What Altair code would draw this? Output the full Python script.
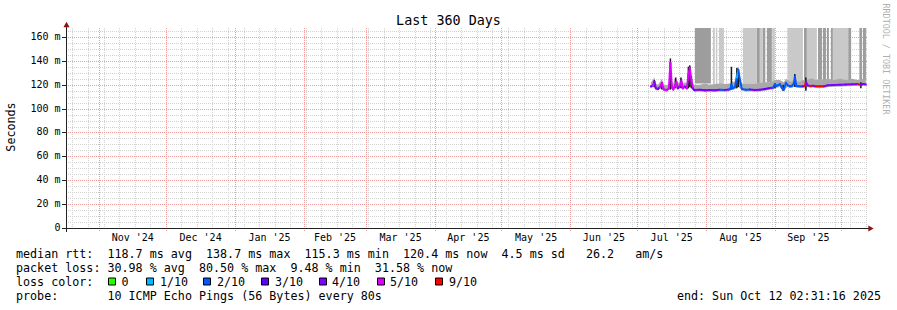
import altair as alt
import pandas as pd

FONT = "DejaVu Sans Mono"

# ---------------- time axis ----------------
T_START_STR = "2024-10-17T02:31:16Z"
T_END_STR = "2025-10-12T02:31:16Z"
T_START = alt.DateTime(year=2024, month=10, date=17, hours=2, minutes=31, seconds=16, utc=True)
T_END = alt.DateTime(year=2025, month=10, date=12, hours=2, minutes=31, seconds=16, utc=True)
Y_MAX = 167.5

# ---------------- median rtt (ms) with loss class ----------------
med_time = [
    "2025-07-07T07:00:00Z", "2025-07-08T05:00:00Z", "2025-07-08T21:00:00Z", "2025-07-09T13:00:00Z",
    "2025-07-10T11:00:00Z", "2025-07-11T08:00:00Z", "2025-07-12T06:00:00Z", "2025-07-13T04:00:00Z",
    "2025-07-14T12:00:00Z", "2025-07-15T10:00:00Z", "2025-07-16T02:00:00Z", "2025-07-16T18:00:00Z",
    "2025-07-17T10:00:00Z", "2025-07-18T02:00:00Z", "2025-07-18T19:00:00Z", "2025-07-19T11:00:00Z",
    "2025-07-20T08:00:00Z", "2025-07-21T01:00:00Z", "2025-07-21T17:00:00Z", "2025-07-22T14:00:00Z",
    "2025-07-23T12:00:00Z", "2025-07-24T04:00:00Z", "2025-07-24T20:00:00Z", "2025-07-25T13:00:00Z",
    "2025-07-26T05:00:00Z", "2025-07-26T21:00:00Z", "2025-07-29T08:00:00Z", "2025-07-31T14:00:00Z",
    "2025-08-02T20:00:00Z", "2025-08-05T02:00:00Z", "2025-08-07T08:00:00Z", "2025-08-09T14:00:00Z",
    "2025-08-11T10:00:00Z", "2025-08-12T02:00:00Z", "2025-08-12T13:00:00Z", "2025-08-13T05:00:00Z",
    "2025-08-14T02:00:00Z", "2025-08-15T00:00:00Z", "2025-08-15T16:00:00Z", "2025-08-16T08:00:00Z",
    "2025-08-17T06:00:00Z", "2025-08-19T01:00:00Z", "2025-08-20T20:00:00Z", "2025-08-23T02:00:00Z",
    "2025-08-25T08:00:00Z", "2025-08-27T14:00:00Z", "2025-08-29T21:00:00Z", "2025-08-31T05:00:00Z",
    "2025-09-01T03:00:00Z", "2025-09-02T00:00:00Z", "2025-09-03T09:00:00Z", "2025-09-04T06:00:00Z",
    "2025-09-05T04:00:00Z", "2025-09-06T01:00:00Z", "2025-09-06T23:00:00Z", "2025-09-07T21:00:00Z",
    "2025-09-08T18:00:00Z", "2025-09-09T16:00:00Z", "2025-09-10T02:00:00Z", "2025-09-10T19:00:00Z",
    "2025-09-12T09:00:00Z", "2025-09-13T17:00:00Z", "2025-09-14T15:00:00Z", "2025-09-15T01:00:00Z",
    "2025-09-15T18:00:00Z", "2025-09-16T21:00:00Z", "2025-09-18T05:00:00Z", "2025-09-19T13:00:00Z",
    "2025-09-21T09:00:00Z", "2025-09-23T04:00:00Z", "2025-09-24T23:00:00Z", "2025-09-27T16:00:00Z",
    "2025-09-30T09:00:00Z", "2025-10-03T01:00:00Z", "2025-10-05T18:00:00Z", "2025-10-08T11:00:00Z",
    "2025-10-09T19:00:00Z", "2025-10-10T17:00:00Z", "2025-10-12T01:00:00Z",
]
med_ms = [
    118.5, 119.5, 122.5, 117.0, 116.5, 118.0, 121.5, 116.0, 115.5, 117.0, 138.5, 118.0,
    116.0, 119.0, 122.5, 117.0, 119.0, 123.0, 117.0, 118.5, 117.0, 128.0, 134.0, 124.0,
    117.0, 115.5, 115.8, 115.3, 115.6, 115.4, 115.8, 115.6, 116.0, 116.5, 120.0, 117.0,
    118.0, 126.0, 132.5, 124.0, 116.5, 115.8, 116.0, 115.6, 115.8, 116.5, 117.2, 117.5,
    120.5, 119.0, 120.5, 117.5, 116.0, 121.5, 119.5, 118.7, 119.0, 121.0, 126.5, 119.0,
    118.7, 118.8, 119.0, 122.5, 119.5, 119.0, 119.2, 118.8, 118.7, 118.8, 119.5, 119.8,
    120.0, 120.2, 120.4, 120.5, 120.0, 120.6, 120.4,
]
med_loss = [
    "4/10", "4/10", "5/10", "4/10", "4/10", "4/10", "5/10", "5/10", "5/10", "5/10", "5/10", "5/10",
    "5/10", "5/10", "5/10", "5/10", "4/10", "5/10", "5/10", "5/10", "4/10", "5/10", "5/10", "5/10",
    "5/10", "4/10", "4/10", "4/10", "4/10", "4/10", "4/10", "2/10", "4/10", "2/10", "2/10", "2/10",
    "2/10", "2/10", "1/10", "2/10", "2/10", "2/10", "2/10", "4/10", "4/10", "4/10", "3/10", "4/10",
    "2/10", "2/10", "2/10", "2/10", "2/10", "2/10", "2/10", "2/10", "2/10", "2/10", "2/10", "2/10",
    "2/10", "2/10", "4/10", "9/10", "4/10", "4/10", "9/10", "4/10", "9/10", "9/10", "4/10", "4/10",
    "4/10", "4/10", "4/10", "4/10", "9/10", "4/10", "4/10",
]
smoke_lo = [
    117.0, 118.0, 117.5, 115.5, 115.0, 116.5, 116.5, 114.5, 114.0, 115.5, 116.0, 116.5,
    114.5, 117.5, 117.0, 115.5, 117.5, 117.0, 115.5, 117.0, 115.5, 117.0, 118.0, 117.0,
    115.5, 114.0, 114.3, 113.8, 114.1, 113.9, 114.3, 114.1, 114.5, 115.0, 116.0, 115.5,
    116.5, 117.0, 118.0, 117.0, 115.0, 114.3, 114.5, 114.1, 114.3, 115.0, 115.7, 116.0,
    117.0, 117.5, 118.0, 115.0, 114.5, 117.0, 118.0, 117.2, 117.5, 118.0, 118.0, 117.5,
    117.2, 117.3, 117.5, 115.0, 118.0, 117.5, 117.7, 117.3, 117.2, 117.3, 118.0, 118.3,
    118.5, 118.7, 118.9, 119.0, 118.5, 119.1, 118.9,
]
smoke_hi = [
    122.0, 124.0, 126.0, 121.0, 120.0, 122.0, 125.0, 120.0, 119.5, 121.0, 142.0, 122.0,
    121.0, 125.0, 126.0, 121.0, 123.0, 126.0, 121.0, 122.0, 121.0, 135.0, 137.0, 127.0,
    121.0, 120.0, 120.0, 121.0, 120.0, 120.5, 121.0, 120.5, 121.0, 121.0, 124.0, 122.0,
    123.0, 134.0, 135.0, 128.0, 121.0, 121.0, 121.0, 121.0, 121.5, 122.0, 122.0, 123.0,
    124.0, 124.0, 124.0, 123.0, 122.0, 125.0, 124.0, 123.0, 123.0, 124.0, 129.0, 123.0,
    123.0, 124.0, 124.0, 126.0, 124.0, 125.0, 125.0, 124.0, 125.0, 124.0, 125.0, 124.0,
    125.0, 124.0, 125.0, 124.0, 124.0, 125.0, 124.0,
]

# ---------------- tall smoke columns (pings beyond the graph top) ----------------
band_start = [
    "2025-07-27T02:00:00Z", "2025-08-04T05:00:00Z", "2025-08-05T13:00:00Z", "2025-08-06T22:00:00Z",
    "2025-08-17T17:00:00Z", "2025-08-24T00:00:00Z", "2025-08-25T08:00:00Z", "2025-08-26T17:00:00Z",
    "2025-08-28T12:00:00Z", "2025-08-31T00:00:00Z", "2025-09-06T17:00:00Z", "2025-09-14T05:00:00Z",
    "2025-09-15T12:00:00Z", "2025-09-20T12:00:00Z", "2025-09-22T17:00:00Z", "2025-09-24T12:00:00Z",
    "2025-09-26T07:00:00Z", "2025-09-27T05:00:00Z", "2025-10-04T02:00:00Z", "2025-10-09T03:00:00Z",
    "2025-10-10T17:00:00Z",
]
band_end = [
    "2025-08-03T07:00:00Z", "2025-08-05T02:00:00Z", "2025-08-06T05:00:00Z", "2025-08-09T04:00:00Z",
    "2025-08-24T00:00:00Z", "2025-08-25T08:00:00Z", "2025-08-26T17:00:00Z", "2025-08-27T19:00:00Z",
    "2025-08-30T18:00:00Z", "2025-09-01T02:00:00Z", "2025-09-13T17:00:00Z", "2025-09-15T12:00:00Z",
    "2025-09-20T00:00:00Z", "2025-09-22T07:00:00Z", "2025-09-24T02:00:00Z", "2025-09-25T10:00:00Z",
    "2025-09-27T05:00:00Z", "2025-10-04T02:00:00Z", "2025-10-05T10:00:00Z", "2025-10-10T07:00:00Z",
    "2025-10-12T02:00:00Z",
]
band_shade = [
    "dark", "light", "light", "light", "light", "dark", "light", "dark", "dark", "light", "light",
    "dark", "light", "dark", "dark", "dark", "dark", "light", "dark", "dark", "dark",
]
band_lo = [
    121.0, 120.5, 120.5, 120.5, 121.0, 121.0, 121.0, 121.5, 122.0, 123.0, 123.0,
    124.0, 124.0, 124.0, 124.0, 124.0, 124.0, 124.0, 124.0, 124.0, 124.0,
]

# ---------------- dark spikes (dense smoke) ----------------
spike_time = [
    "2025-07-08T21:00:00Z", "2025-07-12T06:00:00Z", "2025-07-16T02:00:00Z", "2025-07-18T10:00:00Z",
    "2025-07-20T20:00:00Z", "2025-07-24T04:00:00Z", "2025-07-24T20:00:00Z", "2025-07-25T13:00:00Z",
    "2025-08-12T13:00:00Z", "2025-08-15T00:00:00Z", "2025-08-15T16:00:00Z", "2025-09-01T03:00:00Z",
    "2025-09-04T20:00:00Z", "2025-09-10T02:00:00Z", "2025-09-15T01:00:00Z", "2025-10-09T19:00:00Z",
]
spike_lo = [118, 116, 116, 117, 117, 117, 118, 117, 116, 117, 118, 117, 115, 118, 115, 117]
spike_hi = [124, 122, 142, 126, 126, 135, 136, 127, 135, 134, 131, 121, 120, 129, 126, 122]

# ---------------- legend / texts ----------------
loss_labels = ["0", "1/10", "2/10", "3/10", "4/10", "5/10", "9/10"]
loss_colors = ["#26ff00", "#00b8ff", "#0059ff", "#5e00ff", "#7e00ff", "#dd00ff", "#ff0000"]

y_tick_values = [0, 20, 40, 60, 80, 100, 120, 140, 160]
y_tick_labels = ["0", "20 m", "40 m", "60 m", "80 m", "100 m", "120 m", "140 m", "160 m"]

month_labels = ["Nov '24", "Dec '24", "Jan '25", "Feb '25", "Mar '25", "Apr '25",
                "May '25", "Jun '25", "Jul '25", "Aug '25", "Sep '25"]
month_label_time = ["2024-11-16T04:00:00Z", "2024-12-16T16:00:00Z", "2025-01-16T16:00:00Z",
                    "2025-02-15T04:00:00Z", "2025-03-16T16:00:00Z", "2025-04-16T04:00:00Z",
                    "2025-05-16T16:00:00Z", "2025-06-16T04:00:00Z", "2025-07-16T16:00:00Z",
                    "2025-08-16T16:00:00Z", "2025-09-16T04:00:00Z"]

title_text = "Last 360 Days"
y_title = "Seconds"
watermark = "RRDTOOL / TOBI OETIKER"
rtt_line = "median rtt:  118.7 ms avg  138.7 ms max  115.3 ms min  120.4 ms now  4.5 ms sd   26.2   am/s"
loss_line = "packet loss: 30.98 % avg  80.50 % max  9.48 % min  31.58 % now"
color_line = "loss color:"
probe_line = "probe:       10 ICMP Echo Pings (56 Bytes) every 80s"
end_line = "end: Sun Oct 12 02:31:16 2025"

# ---------------- grid positions ----------------
week_lines = [d.strftime("%Y-%m-%dT00:00:00Z") for d in pd.date_range("2024-10-20", "2025-10-12", freq="7D")]
month_lines = [d.strftime("%Y-%m-%dT00:00:00Z") for d in pd.date_range("2024-11-01", "2025-10-01", freq="MS")]
y_minor = list(range(5, 170, 5))
y_major = list(range(20, 170, 20))

# ---------------- layout constants ----------------
W, H = 800, 200
PAD_L, PAD_T = 66, 28
box_left = [108, 146, 203, 261, 319, 377, 435]
box_label_x = [121.5, 160, 217, 275, 332, 390, 449]

T0_MS = pd.Timestamp(T_START_STR).value // 10**6
T1_MS = pd.Timestamp(T_END_STR).value // 10**6

xs = alt.Scale(type="utc", domain=[T_START, T_END])
ys = alt.Scale(domain=[0, Y_MAX], nice=False, zero=False)

# crisp pixel positions for grid lines (same mapping as the scales, rounded)
PY = f"round({H} - datum.v * {H} / {Y_MAX}) + 0.5"
PX = f"round((time(toDate(datum.t)) - {T0_MS}) / {T1_MS - T0_MS} * {W}) + 0.5"


def X(field):
    return alt.X(field, type="temporal", scale=xs, axis=None)


def Y(field):
    return alt.Y(field, type="quantitative", scale=ys, axis=None)


one = pd.DataFrame({"a": [0]})

layers = []


def hgrid(values, color, x0, x1):
    return (alt.Chart(pd.DataFrame({"v": values})).transform_calculate(py=PY)
            .mark_rule(color=color, strokeDash=[1, 1], strokeWidth=1)
            .encode(y=alt.Y("py:Q", scale=None, axis=None), x=alt.value(x0), x2=alt.value(x1)))


def vgrid(values, color, y1):
    return (alt.Chart(pd.DataFrame({"t": values})).transform_calculate(px=PX)
            .mark_rule(color=color, strokeDash=[1, 1], strokeWidth=1)
            .encode(x=alt.X("px:Q", scale=None, axis=None), y=alt.value(0), y2=alt.value(y1)))


layers.append(hgrid(y_minor, "#d2d2d2", 0, W + 2))
layers.append(vgrid(week_lines, "#d2d2d2", H + 2))
layers.append(hgrid(y_major, "#f09a9a", 0, W + 2))
layers.append(vgrid(month_lines, "#f09a9a", H + 3))

# tall smoke bands
bands = pd.DataFrame({"t": band_start, "t2": band_end, "shade": band_shade, "lo": band_lo})
for shade, col in [("dark", "#9d9d9d"), ("light", "#c9c9c9")]:
    layers.append(
        alt.Chart(bands).transform_filter(alt.datum.shade == shade)
        .mark_rect(color=col, opacity=1)
        .encode(x=X("t"), x2="t2", y=Y("lo"), y2=alt.value(0))
    )

# smoke around the median
med = pd.DataFrame({"t": med_time, "v": med_ms, "loss": med_loss, "lo": smoke_lo, "hi": smoke_hi})
layers.append(
    alt.Chart(med).mark_area(color="#a9a9a9", opacity=1, interpolate="linear")
    .encode(x=X("t"), y=Y("lo"), y2="hi")
)

# dark spikes
spikes = pd.DataFrame({"t": spike_time, "lo": spike_lo, "hi": spike_hi})
layers.append(
    alt.Chart(spikes).mark_rule(color="#1a1a1a", strokeWidth=1.5)
    .encode(x=X("t"), y=Y("lo"), y2="hi")
)

# median line, coloured by loss
seg = pd.DataFrame({
    "t": med_time[:-1], "t2": med_time[1:],
    "v": med_ms[:-1], "v2": med_ms[1:],
    "loss": med_loss[1:],
})
layers.append(
    alt.Chart(seg).mark_rule(strokeWidth=2, strokeCap="round")
    .encode(
        x=X("t"), x2="t2", y=Y("v"), y2="v2",
        color=alt.Color("loss:N", scale=alt.Scale(domain=loss_labels, range=loss_colors), legend=None),
    )
)

# y ticks and labels
yt = pd.DataFrame({"v": y_tick_values, "s": y_tick_labels})
layers.append(
    alt.Chart(yt).transform_calculate(py=PY)
    .mark_rule(color="#222222", strokeWidth=1)
    .encode(y=alt.Y("py:Q", scale=None, axis=None), x=alt.value(-4), x2=alt.value(0))
)
layers.append(
    alt.Chart(yt).mark_text(font=FONT, fontSize=10, align="right", baseline="middle", color="#000000")
    .encode(y=Y("v"), x=alt.value(-5.5), text="s:N")
)

# axes lines and arrows
layers.append(alt.Chart(one).mark_rule(color="#222222", strokeWidth=1)
              .encode(x=alt.value(0.5), y=alt.value(-5), y2=alt.value(H + 4)))
layers.append(alt.Chart(one).mark_rule(color="#222222", strokeWidth=1)
              .encode(x=alt.value(-4), x2=alt.value(W + 5), y=alt.value(H + 0.5)))
layers.append(alt.Chart(one).mark_point(shape="triangle-up", filled=True, size=38, color="#8b1414", opacity=1)
              .encode(x=alt.value(0.5), y=alt.value(-3.5)))
layers.append(alt.Chart(one).mark_point(shape="triangle-right", filled=True, size=38, color="#8b1414", opacity=1)
              .encode(x=alt.value(W + 5), y=alt.value(H + 0.5)))

# month labels
layers.append(
    alt.Chart(pd.DataFrame({"t": month_label_time, "s": month_labels}))
    .mark_text(font=FONT, fontSize=10, align="center", baseline="alphabetic", color="#000000")
    .encode(x=X("t"), y=alt.value(H + 13), text="s:N")
)


def txt(s, x, y, size=11.7, align="left", angle=0, color="#000000", baseline="alphabetic"):
    s = s.replace(" ", "\u00a0")
    return (alt.Chart(pd.DataFrame({"s": [s]}))
            .mark_text(font=FONT, fontSize=size, align=align, baseline=baseline, angle=angle, color=color)
            .encode(x=alt.value(x - PAD_L), y=alt.value(y - PAD_T), text="s:N"))


layers.append(txt(title_text, 448.5, 25, size=13.4, align="center"))
layers.append(txt(y_title, 11, 127, align="center", angle=270, baseline="middle"))
layers.append(txt(watermark, 886, 59, size=8.4, align="center", angle=90, color="#b0b0b0", baseline="middle"))
layers.append(txt(rtt_line, 16, 257.5))
layers.append(txt(loss_line, 16, 271.5))
layers.append(txt(color_line, 16, 285.5))
layers.append(txt(probe_line, 16, 299.5))
layers.append(txt(end_line, 881, 299.5, align="right"))

for lab, col, bx, lx in zip(loss_labels, loss_colors, box_left, box_label_x):
    layers.append(
        alt.Chart(one).mark_rect(color=col, stroke="#000000", strokeWidth=1)
        .encode(x=alt.value(bx - PAD_L + 0.5), x2=alt.value(bx - PAD_L + 7.5),
                y=alt.value(278 - PAD_T), y2=alt.value(285 - PAD_T))
    )
    layers.append(txt(lab, lx, 285.5))

chart = (
    alt.layer(*layers)
    .resolve_scale(color="independent")
    .properties(
        width=W, height=H,
        autosize=alt.AutoSizeParams(type="none"),
        padding={"left": PAD_L, "top": PAD_T, "right": 897 - PAD_L - W, "bottom": 310 - PAD_T - H},
        background="#ffffff",
    )
    .configure_view(stroke=None)
)

chart.save("out.html", embed_options={"renderer": "svg", "actions": False})
